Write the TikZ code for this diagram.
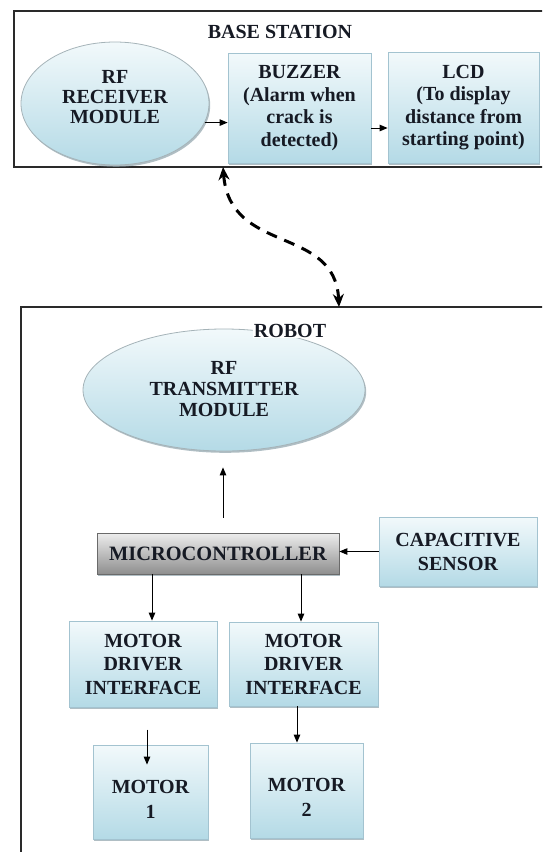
\documentclass[tikz,border=0pt]{standalone}
\usepackage{fontspec}
\setmainfont{Liberation Serif}[BoldFont={Liberation Serif Bold}]
\newfontfamily\labelfont{Liberation Serif Bold}
\usetikzlibrary{arrows.meta,shapes.geometric,shadows}

\definecolor{ink}{HTML}{161A24}
\definecolor{frameink}{HTML}{2A2A2A}
\definecolor{boxtop}{HTML}{F2F9FB}
\definecolor{boxbot}{HTML}{B4DAE6}
\definecolor{boxedge}{HTML}{A3C3D0}
\definecolor{ovaledge}{HTML}{A5B3B8}
\definecolor{mcutop}{HTML}{EDEDED}
\definecolor{mcubot}{HTML}{8E8E8E}
\definecolor{mcuedge}{HTML}{6A6A6A}
\definecolor{shade}{HTML}{8FA3AB}

\tikzset{
  frame/.style={rectangle, draw=frameink, line width=1.6pt, inner sep=0pt},
  txt/.style={text=ink, font=\labelfont\fontsize{20}{21}\selectfont, align=center, inner sep=0pt},
  softshadow/.style={drop shadow={shadow xshift=1.2pt, shadow yshift=-1.8pt, fill=shade, opacity=0.7}},
  bluebox/.style={rectangle, draw=boxedge, line width=0.8pt, top color=boxtop, bottom color=boxbot, softshadow, inner sep=0pt},
  oval/.style={ellipse, draw=ovaledge, line width=0.8pt, top color=boxtop, bottom color=boxbot, softshadow, inner sep=0pt},
  mcubox/.style={rectangle, draw=mcuedge, line width=0.8pt, top color=mcutop, bottom color=mcubot, softshadow, inner sep=0pt},
  arr/.style={-{Triangle[length=8pt,width=6.5pt]}, line width=1pt, draw=black},
  link/.style={{Stealth[length=13pt,width=11pt]}-{Stealth[length=13pt,width=11pt]}, line width=3pt, dash pattern=on 11pt off 8pt, draw=black}
}

\begin{document}
\begin{tikzpicture}[x=1pt, y=-1pt]
  \useasboundingbox (0,0) rectangle (542,852);
  \clip (0,0) rectangle (542,852);

  % ---------- base station ----------
  \node[frame, minimum width=534pt, minimum height=156pt] (base) at (281,89) {};
  \node[txt] (basetitle) at (280,32) {BASE STATION};

  \node[oval, minimum width=188pt, minimum height=123pt] (rx) at (115,103.5) {};
  \node[txt, font=\labelfont\fontsize{20}{20}\selectfont] (rxtext) at (115,97) {RF\\RECEIVER\\MODULE};

  \node[bluebox, txt, minimum width=143pt, minimum height=110pt, font=\labelfont\fontsize{20}{22.6}\selectfont]
    (buzzer) at (299.5,108) {BUZZER\\(Alarm when\\crack is\\detected)};
  \node[bluebox, txt, minimum width=151pt, minimum height=111pt, font=\labelfont\fontsize{20}{22.6}\selectfont]
    (lcd) at (463.5,107.5) {LCD\\(To display\\distance from\\starting point)};

  \draw[arr] (rx.348.6) -- (rx.348.6 -| buzzer.west);
  \draw[arr] ([yshift=-20pt]buzzer.east) -- ([yshift=-20pt]buzzer.east -| lcd.west);

  % ---------- robot ----------
  \node[frame, minimum width=540pt, minimum height=560pt] (robot) at (291,587) {};

  \node[oval, minimum width=282pt, minimum height=122pt] (tx) at (224,390) {};
  \node[txt, fill=white, inner sep=0.5pt] (robottitle) at (290,331) {ROBOT};
  \node[txt] (txtext) at (224,389) {RF\\TRANSMITTER\\MODULE};

  \node[mcubox, txt, minimum width=242pt, minimum height=41pt, font=\labelfont\fontsize{20.4}{21}\selectfont]
    (mcu) at (218,553.5) {MICROCONTROLLER};
  \node[bluebox, txt, minimum width=158pt, minimum height=69pt, font=\labelfont\fontsize{20}{24}\selectfont]
    (cap) at (458,551.5) {CAPACITIVE\\SENSOR};

  \node[bluebox, txt, minimum width=148pt, minimum height=86pt, font=\labelfont\fontsize{20}{23.5}\selectfont]
    (md1) at (143,664) {MOTOR\\DRIVER\\INTERFACE};
  \node[bluebox, txt, minimum width=149pt, minimum height=84pt, font=\labelfont\fontsize{20}{23.5}\selectfont]
    (md2) at (303.5,664) {MOTOR\\DRIVER\\INTERFACE};

  \node[bluebox, minimum width=115pt, minimum height=94pt] (m1) at (150.5,792) {};
  \node[bluebox, minimum width=113pt, minimum height=95pt] (m2) at (306.5,790.5) {};
  \node[txt, font=\labelfont\fontsize{20}{25}\selectfont] (m1text) at (150.5,799.5) {MOTOR\\1};
  \node[txt, font=\labelfont\fontsize{20}{25}\selectfont] (m2text) at (306.5,797.5) {MOTOR\\2};

  % ---------- connectors ----------
  \draw[arr] ([xshift=5pt,yshift=15pt]mcu.north) -- ([xshift=-1pt,yshift=-16pt]tx.south);
  \draw[arr] (cap.west) -- (cap.west -| mcu.east);
  \draw[arr] ([xshift=9pt]md1.north |- mcu.south) -- ([xshift=9pt]md1.north);
  \draw[arr] ([xshift=-2.5pt]md2.north |- mcu.south) -- ([xshift=-2.5pt]md2.north);
  \draw[arr] ([xshift=-6.5pt]md2.south) -- ([xshift=-6.5pt]md2.south |- m2.north);
  \draw[arr] ([xshift=-3.5pt,yshift=15pt]m1.north) -- ([xshift=-3.5pt,yshift=-20pt]m1.north);

  % ---------- wireless link ----------
  \coordinate (linktop) at (223,167);
  \coordinate (linkbot) at (339,307);
  \draw[link] (linktop) .. controls (230,255) and (335,225) .. (linkbot);
\end{tikzpicture}
\end{document}
